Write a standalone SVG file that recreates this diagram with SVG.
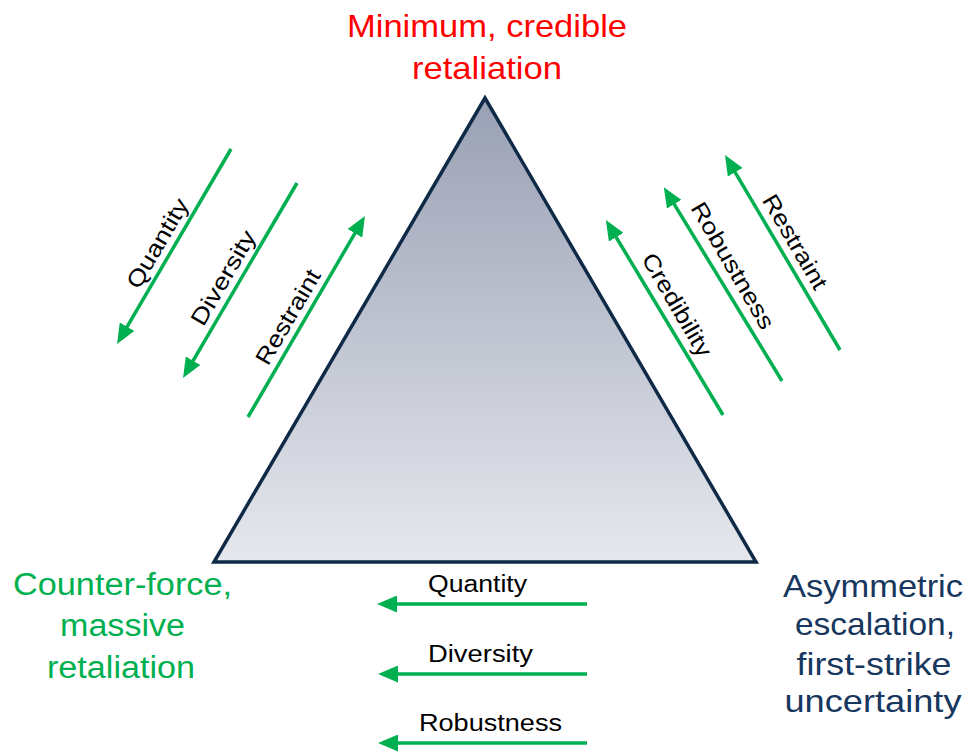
<svg xmlns="http://www.w3.org/2000/svg" width="974" height="756" viewBox="0 0 974 756">
<style>
text{font-family:"Liberation Sans",Arial,sans-serif;}
.lbl{font-size:23px;fill:#000;}
.arr{stroke:#00b050;stroke-width:3.5;fill:none;marker-end:url(#ah);}
.t1{font-size:30.5px;fill:#ff0000;text-anchor:middle;}
.t2{font-size:31px;fill:#00b050;text-anchor:middle;}
.t3{font-size:30.5px;fill:#17375e;text-anchor:middle;}
</style>
<defs>
<linearGradient id="g" x1="0" y1="98" x2="0" y2="563" gradientUnits="userSpaceOnUse">
<stop offset="0" stop-color="#99a0b4"/>
<stop offset="1" stop-color="#e6e8ed"/>
</linearGradient>
<marker id="ah" markerUnits="userSpaceOnUse" markerWidth="20" markerHeight="17" refX="6" refY="8.5" orient="auto">
<path d="M0,0 L20,8.5 L0,17 z" fill="#00b050"/>
</marker>
</defs>
<g id="triangle">
<polygon points="485,98 214,562 756,562" fill="url(#g)" stroke="#0f2a47" stroke-width="3.5" stroke-linejoin="miter"/>
</g>
<g id="top-label">
<text class="t1" x="487" y="37" textLength="280" lengthAdjust="spacingAndGlyphs">Minimum, credible</text>
<text class="t1" x="487" y="79" textLength="150" lengthAdjust="spacingAndGlyphs">retaliation</text>
</g>
<g id="left-label">
<text class="t2" x="122.5" y="595" textLength="219" lengthAdjust="spacingAndGlyphs">Counter-force,</text>
<text class="t2" x="122.5" y="636" textLength="125" lengthAdjust="spacingAndGlyphs">massive</text>
<text class="t2" x="121" y="678" textLength="148" lengthAdjust="spacingAndGlyphs">retaliation</text>
</g>
<g id="right-label">
<text class="t3" x="873" y="597" textLength="180" lengthAdjust="spacingAndGlyphs">Asymmetric</text>
<text class="t3" x="875" y="635" textLength="160" lengthAdjust="spacingAndGlyphs">escalation,</text>
<text class="t3" x="874" y="675" textLength="155" lengthAdjust="spacingAndGlyphs">first-strike</text>
<text class="t3" x="873" y="712" textLength="177" lengthAdjust="spacingAndGlyphs">uncertainty</text>
</g>
<g id="connectors">
<line class="arr" x1="231" y1="149" x2="124.1" y2="331.9"/>
<line class="arr" x1="297" y1="183" x2="190.1" y2="365.9"/>
<line class="arr" x1="248" y1="417" x2="357.9" y2="228.1"/>
<line class="arr" x1="723" y1="415" x2="613.1" y2="232.1"/>
<line class="arr" x1="782" y1="381" x2="671.1" y2="199.1"/>
<line class="arr" x1="840" y1="350" x2="732.1" y2="167.1"/>
<line class="arr" x1="587" y1="604" x2="391" y2="604"/>
<line class="arr" x1="587" y1="674" x2="392" y2="674"/>
<line class="arr" x1="587" y1="743" x2="392" y2="743"/>
</g>
<g id="arrow-labels">
<text class="lbl" text-anchor="middle" textLength="100" lengthAdjust="spacingAndGlyphs" transform="translate(164.3,247.3) rotate(-59.7)">Quantity</text>
<text class="lbl" text-anchor="middle" textLength="106" lengthAdjust="spacingAndGlyphs" transform="translate(230.1,281.7) rotate(-59.7)">Diversity</text>
<text class="lbl" text-anchor="middle" textLength="106" lengthAdjust="spacingAndGlyphs" transform="translate(294.8,321) rotate(-59.7)">Restraint</text>
<text class="lbl" text-anchor="middle" textLength="116" lengthAdjust="spacingAndGlyphs" transform="translate(670.2,308.8) rotate(59.7)">Credibility</text>
<text class="lbl" text-anchor="middle" textLength="143" lengthAdjust="spacingAndGlyphs" transform="translate(726,269.4) rotate(59.7)">Robustness</text>
<text class="lbl" text-anchor="middle" textLength="106" lengthAdjust="spacingAndGlyphs" transform="translate(788.3,245.7) rotate(59.7)">Restraint</text>
<text class="lbl" text-anchor="middle" x="477.5" y="592" textLength="99" lengthAdjust="spacingAndGlyphs">Quantity</text>
<text class="lbl" text-anchor="middle" x="480.5" y="662" textLength="105" lengthAdjust="spacingAndGlyphs">Diversity</text>
<text class="lbl" text-anchor="middle" x="490.5" y="731" textLength="143" lengthAdjust="spacingAndGlyphs">Robustness</text>
</g>
</svg>
